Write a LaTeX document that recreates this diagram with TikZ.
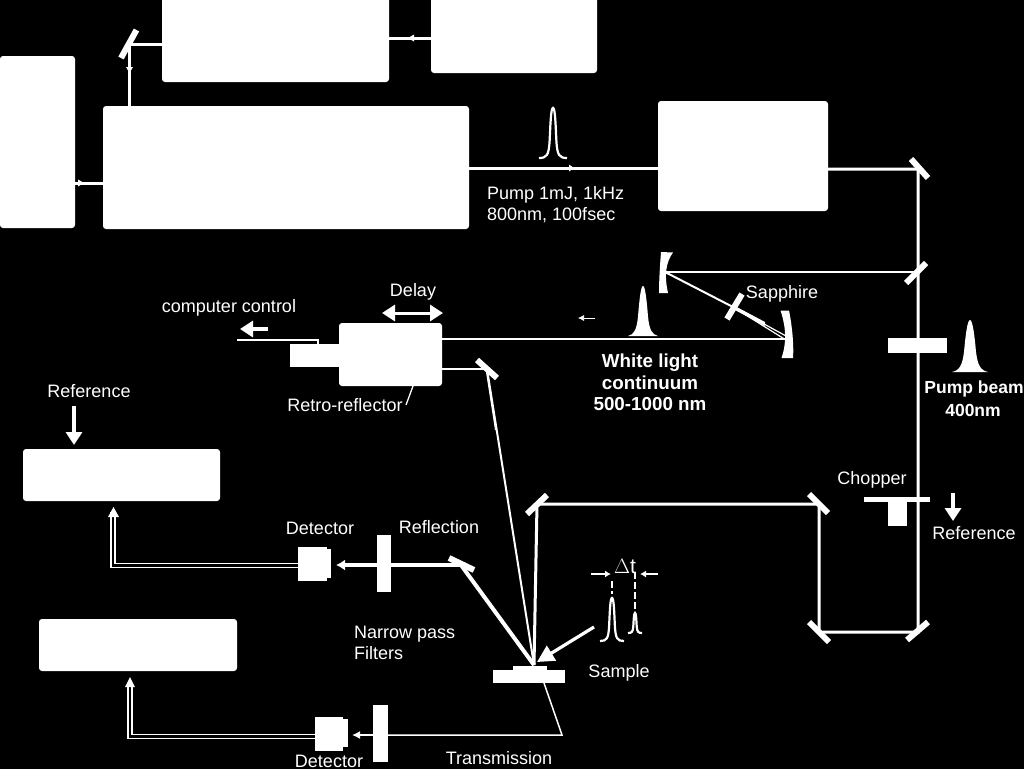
\documentclass[tikz,border=0pt]{standalone}
\usepackage{fontspec}
\setmainfont{Liberation Sans}
\usetikzlibrary{arrows.meta}
\newcommand{\pulsepath}[4]{({#1-#4},#2) .. controls ({#1-0.45*#4},#2) and ({#1-0.3*#4},{#2-0.05*(#2-#3)}) .. ({#1-0.24*#4},{#2-0.35*(#2-#3)}) .. controls ({#1-0.18*#4},{#2-0.7*(#2-#3)}) and ({#1-0.15*#4},#3) .. (#1,#3) .. controls ({#1+0.15*#4},#3) and ({#1+0.18*#4},{#2-0.7*(#2-#3)}) .. ({#1+0.24*#4},{#2-0.35*(#2-#3)}) .. controls ({#1+0.3*#4},{#2-0.05*(#2-#3)}) and ({#1+0.45*#4},#2) .. ({#1+#4},#2)}
\newcommand{\pulsefill}[4]{\fill[white] ({#1-#4},#2) .. controls ({#1-0.6*#4},{#2-0.03*(#2-#3)}) and ({#1-0.42*#4},{#2-0.12*(#2-#3)}) .. ({#1-0.33*#4},{#2-0.4*(#2-#3)}) .. controls ({#1-0.25*#4},{#2-0.7*(#2-#3)}) and ({#1-0.15*#4},#3) .. (#1,#3) .. controls ({#1+0.15*#4},#3) and ({#1+0.25*#4},{#2-0.7*(#2-#3)}) .. ({#1+0.33*#4},{#2-0.4*(#2-#3)}) .. controls ({#1+0.42*#4},{#2-0.12*(#2-#3)}) and ({#1+0.6*#4},{#2-0.03*(#2-#3)}) .. ({#1+#4},#2) -- cycle;}
\newcommand{\pulseline}[4]{\draw[white,line width=2.2pt] \pulsepath{#1}{#2}{#3}{#4};}
\tikzset{
  x=1pt,y=-1pt,
  blockbox/.style={fill=white,rounded corners=3pt},
  solidpart/.style={fill=white},
  mirrorbar/.style={draw=white,line width=6pt},
  beam/.style={draw=white,line width=3pt},
  thinbeam/.style={draw=white,line width=2pt},
  fatbeam/.style={draw=white,line width=4pt},
  smallarrow/.style={draw=white,line width=1.3pt,-{Latex[length=6pt,width=7pt]}},
  bigarrow/.style={draw=white,line width=3.2pt,-{Triangle[length=13pt,width=16pt]}},
  label/.style={text=white,font=\fontsize{18}{20.5}\selectfont,inner sep=0pt,align=center},
  boldlabel/.style={label,font=\fontsize{18.8}{21.5}\selectfont\bfseries},
}
\begin{document}
\begin{tikzpicture}
\useasboundingbox (0,0) rectangle (1024,769);
\fill[black] (0,0) rectangle (1024,769);
% ---- boxes
\fill[blockbox] (0,56) rectangle (75,228);
\fill[blockbox] (103,106) rectangle (469,229);
\fill[blockbox] (162,-6) rectangle (389,82);
\fill[blockbox] (431,-6) rectangle (597,73);
\fill[blockbox] (658,101) rectangle (828,211);
\fill[blockbox] (339,323) rectangle (442,386);
\fill[blockbox] (23,449) rectangle (220,501);
\fill[blockbox] (39,619) rectangle (237,671);
\coordinate (topl) at (162,44);
\coordinate (topr) at (389,38);
\coordinate (srcl) at (431,38);
\coordinate (mainl) at (103,183);
\coordinate (leftr) at (75,183);
\coordinate (mainr) at (469,168);
\coordinate (ampl) at (658,168);
\coordinate (ampr) at (828,169);
\coordinate (maint) at (129,106);
\coordinate (m0) at (129,44);
\coordinate (m1) at (918,169);
\coordinate (bs) at (918,272);
\coordinate (cml) at (665,272);
\coordinate (cmr) at (786,339);
\coordinate (sa) at (733,307);
\coordinate (rt) at (442,339);
\coordinate (rb) at (442,369);
\coordinate (m2) at (487,369);
\coordinate (mc) at (819,504);
\coordinate (mbl) at (819,632);
\coordinate (mbr) at (918,632);
\coordinate (mt) at (537,504);
\coordinate (spot) at (534,665);
\coordinate (mr) at (461,565);
% ---- beams
\draw[beam] (srcl) -- (topr);
\draw[beam] (topl) -- (m0) -- (maint);
\draw[beam] (mainl) -- (leftr);
\draw[beam] (mainr) -- (ampl);
\draw[beam] (ampr) -- (m1) -- (bs) -- (mbr) -- (mbl) -- (mc) -- (mt) -- (spot);
\draw[thinbeam,line width=2.6pt] (bs) -- (cml);
\draw[thinbeam] (cml) -- (sa);
\draw[draw=white,line width=1.2pt] (sa) -- (786,336);
\draw[draw=white,line width=1.2pt] (sa) -- (786,340);
\fill[white] (733,305) -- (765,322) -- (765,326) -- (733,309) -- cycle;
\draw[thinbeam] (rt) -- (cmr);
\draw[thinbeam] (rb) -- (m2);
\draw[thinbeam] (m2) -- (spot);
\fill[white] (487,369) -- (496,430) -- (495,430) -- (485.5,369) -- cycle;
\draw[fatbeam] (spot) -- (mr);
\draw[fatbeam] (mr) -- (345,565);
% ---- arrow marks on beams
\fill[white] (408,38) -- (414,34.5) -- (414,41.5) -- cycle;
\fill[white] (129.5,73) -- (126,67) -- (133,67) -- cycle;
\fill[white] (84,183) -- (78,179.5) -- (78,186.5) -- cycle;
\fill[white] (574,168) -- (569,164.5) -- (569,171.5) -- cycle;
\draw[draw=white,line width=0.6pt,-{Latex[length=6pt,width=6pt]}] (595,318) -- (578,318);
% ---- mirrors
\draw[mirrorbar] (136.5,30) -- (121,58);
\draw[mirrorbar] (911,159) -- (928,178);
\draw[mirrorbar] (906,283) -- (926,263);
\draw[mirrorbar] (809,494) -- (828,513);
\draw[mirrorbar] (809,622) -- (829,642);
\draw[mirrorbar] (907,640) -- (928,622);
\draw[mirrorbar] (527,514) -- (547,495);
\draw[mirrorbar] (477,360) -- (497,378);
\draw[mirrorbar] (449,558) -- (474,570);
\draw[draw=white,line width=6pt] (742,294) -- (727,319);
\fill[white] (661,252) -- (673,252.5) .. controls (666,262) and (664,275) .. (668,293) -- (659,293) .. controls (659,280) and (660,265) .. (661,252) -- cycle;
\fill[white] (780.5,310.5) -- (789,310.5) .. controls (792,325) and (794,345) .. (793,358) -- (781.5,358) .. controls (786,345) and (787,330) .. (780.5,310.5) -- cycle;
% ---- delay stage
\fill[solidpart] (290,344) rectangle (339,367);
\draw[draw=white,line width=2.6pt] (237,340) -- (318,340) -- (318,345);
\draw[draw=white,line width=1.3pt] (413,386) -- (406,405);
% ---- filters, chopper, sample, detectors
\fill[solidpart] (888,338) rectangle (947,353);
\fill[solidpart] (864,497) rectangle (930,502);
\fill[solidpart] (888,502) rectangle (907,526);
\fill[solidpart] (377,535) rectangle (391,592);
\fill[solidpart] (373,705) rectangle (388,762);
\fill[solidpart] (493,670) rectangle (565,683);
\fill[solidpart] (513,666) rectangle (547,670);
\fill[solidpart] (298,547) rectangle (327,581);
\fill[solidpart] (327,549) rectangle (331,578);
\fill[solidpart] (315,717) rectangle (343,751);
\fill[solidpart] (343,719) rectangle (348,747);
\coordinate (det1) at (298,565.5);
\coordinate (det2) at (315,736.5);
\coordinate (fil2) at (373,735);
\coordinate (samb) at (544,683);
\coordinate (tr) at (562,735);
% ---- transmission
\draw[draw=white,line width=1.5pt] (samb) -- (tr) -- (fil2);
\draw[draw=white,line width=1.5pt,-{Latex[length=8pt,width=8pt]}] (fil2) -- (352,735);
% ---- signal cables
\draw[draw=white,line width=1.1pt] (det1) ++(0,-1.8) -- (115,563.7) -- (115,512);
\draw[draw=white,line width=1.1pt] (det1) ++(0,1.8) -- (111,567.3) -- (111,512);
\fill[white] (113.5,507) -- (108,517) -- (119,517) -- cycle;
\draw[draw=white,line width=1.1pt] (det2) ++(0,-1.8) -- (132,734.7) -- (132,683);
\draw[draw=white,line width=1.1pt] (det2) ++(0,1.8) -- (128,738.3) -- (128,683);
\fill[white] (130,677) -- (125,687) -- (135,687) -- cycle;
% ---- arrows
\coordinate (a1s) at (268,329); \coordinate (a1e) at (240,329);
\draw[bigarrow] (a1s) -- (a1e);
\coordinate (d1) at (382,313); \coordinate (d2) at (443,313);
\draw[draw=white,line width=3pt,{Triangle[length=13pt,width=16pt]}-{Triangle[length=13pt,width=16pt]}] (d1) -- (d2);
\coordinate (r1s) at (74,406); \coordinate (r1e) at (74,445);
\draw[bigarrow] (r1s) -- (r1e);
\coordinate (r2s) at (953,493); \coordinate (r2e) at (953,521);
\draw[bigarrow] (r2s) -- (r2e);
\coordinate (ahs) at (375,565); \coordinate (ahe) at (336,565);
\draw[draw=white,line width=3pt,-{Latex[length=9pt,width=11pt]}] (ahs) -- (ahe);
\coordinate (ps) at (594,627);
\draw[draw=white,line width=3.2pt,-{Triangle[length=17pt,width=17pt]}] (ps) -- (537,662);
% ---- pulses
\pulseline{553}{158}{108}{14}
\pulsefill{643}{336}{286}{15}
\pulsefill{970}{372}{320}{18}
\pulseline{612}{641}{598}{12}
\pulseline{635}{633}{613}{7}
% ---- delta t
\draw[draw=white,line width=1.2pt,dash pattern=on 7pt off 3pt] (612,581) -- (612,594);
\draw[draw=white,line width=1.2pt,dash pattern=on 7pt off 3pt] (635,572) -- (635,611);
\draw[smallarrow] (591,574) -- (611,574);
\draw[smallarrow] (658,574) -- (640,574);
% ---- labels
\node[label,anchor=west] (lpump) at (487,206) {\begin{tabular}{@{}l@{}}Pump 1mJ, 1kHz\\800nm, 100fsec\end{tabular}};
\node[label] (lsap) at (782,294) {Sapphire};
\node[boldlabel] (lwl) at (650,382.5) {White light\\continuum\\500-1000 nm};
\node[boldlabel,font=\fontsize{17.5}{21}\selectfont\bfseries] (lpb) at (974,389) {Pump beam};
\node[boldlabel,font=\fontsize{17.5}{21}\selectfont\bfseries] (lpb2) at (973,410) {400nm};
\node[label] (lcc) at (229,308) {computer control};
\node[label] (ldel) at (413,292) {Delay};
\node[label] (lretro) at (345,405) {Retro-reflector};
\node[label] (lref) at (89,391.5) {Reference};
\node[label] (lchop) at (872,479.5) {Chopper};
\node[label] (lref2) at (974,533.5) {Reference};
\node[label] (ldet) at (320,528.5) {Detector};
\node[label] (lrefl) at (439,527.5) {Reflection};
\node[label,anchor=west] (lnp) at (354,645) {\begin{tabular}{@{}l@{}}Narrow pass\\Filters\end{tabular}};
\node[label] (lsam) at (619,672.5) {Sample};
\node[label] (ltrans) at (499,758) {Transmission};
\node[label] (ldet2) at (329,761) {Detector};
\node[label,font=\fontsize{21}{24}\selectfont] (ldt) at (625,566) {$\Delta$t};
\end{tikzpicture}
\end{document}
